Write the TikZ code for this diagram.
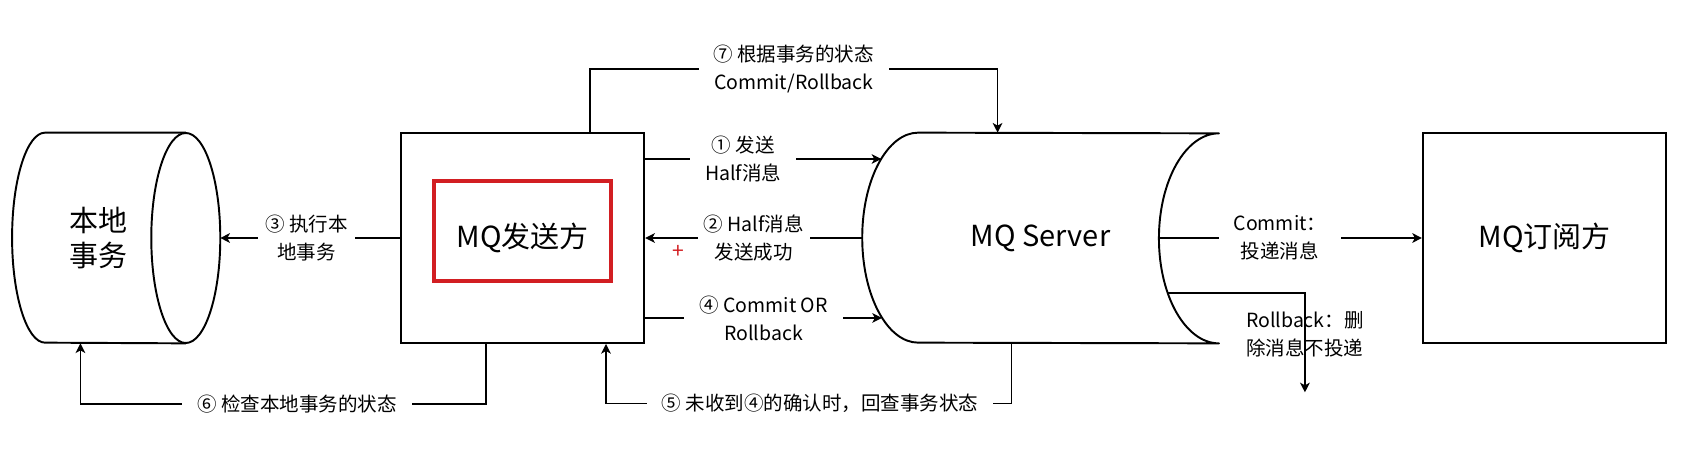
\documentclass[tikz,border=0pt]{standalone}
\usepackage{fontspec}
\setmainfont{Noto Sans CJK SC}
\usepackage{tikz}
\usetikzlibrary{positioning,calc,arrows.meta}
\definecolor{hlred}{RGB}{210,30,34}

\begin{document}
\begin{tikzpicture}[
    module/.style={rectangle, draw=black, line width=1.1pt, minimum width=4.87cm, minimum height=4.2cm, inner sep=0pt, align=center, font=\fontsize{16.5}{19.9}\selectfont},
    storebody/.style={rectangle, minimum height=4.2cm, inner sep=0pt, align=center, font=\fontsize{16.5}{19.9}\selectfont},
    outline/.style={draw=black, line width=1.1pt, line join=round},
    hlbox/.style={rectangle, draw=hlred, line width=1.8pt, minimum width=3.54cm, minimum height=2cm},
    lbl/.style={fill=white, align=center, inner xsep=0.3cm, inner ysep=1pt, font=\fontsize{11.1}{15.9}\selectfont},
    arrow/.style={-{Stealth[length=5.5pt, width=5.5pt, inset=1.5pt]}, line width=0.9pt}
]
\useasboundingbox (0,0) rectangle (33.84,9.14);

% Main modules
\node[module] (sender) at (10.45,4.38) {MQ发送方};
\node[storebody, minimum width=3.46cm, left=4.28cm of sender] (ldb) {本地\\事务};
\node[storebody, minimum width=7.12cm, right=4.34cm of sender] (srv) {MQ Server};
\node[module, right=4.06cm of srv] (sub) {MQ订阅方};
\node[hlbox] (senderhl) at ([yshift=0.14cm]sender.center) {};
\node[text=hlred, font=\fontsize{12}{12}\selectfont, inner sep=0pt] (handle) at (13.56,4.10) {+};

% Storage outlines
\draw[outline] (ldb.north east) -- ([xshift=0.66cm]ldb.north west)
  arc[start angle=90, end angle=270, x radius=0.66cm, y radius=2.1cm] -- (ldb.south east);
\draw[outline] (ldb.east) ellipse[x radius=0.69cm, y radius=2.1cm];
\draw[outline] ([xshift=1.12cm]srv.north west)
  arc[start angle=90, end angle=270, x radius=1.12cm, y radius=2.1cm] -- (srv.south east)
  arc[start angle=270, end angle=90, x radius=1.2cm, y radius=2.1cm] -- cycle;

% Points on the curved borders
\coordinate (ldbcap) at ([xshift=0.69cm]ldb.east);
\path ([xshift=1.12cm]srv.west) ++(131.2:1.12cm and 2.1cm) coordinate (srvin1);
\path ([xshift=1.12cm]srv.west) ++(229.6:1.12cm and 2.1cm) coordinate (srvin4);
\path (srv.east) ++(180:1.2cm and 2.1cm) coordinate (srvout);
\path (srv.east) ++(211.6:1.2cm and 2.1cm) coordinate (srvrb);
\coordinate (rbend) at ($(srv.south east)+(1.72,-0.98)$);

% Message flow
\draw[arrow] (sender.east |- srvin1) -- node[lbl, pos=0.415] {① 发送\\Half消息} (srvin1);
\draw[arrow] (srv.west) -- node[lbl, inner xsep=0.12cm] {② Half消息\\发送成功} (sender.east |- srv.west);
\draw[arrow] (sender) -- node[lbl, inner xsep=0.15cm, pos=0.52] {③ 执行本\\地事务} (ldbcap);
\draw[arrow] (sender.east |- srvin4) -- node[lbl] {④ Commit OR\\Rollback} (srvin4);
\draw[arrow] ([xshift=-0.58cm]srv.south) -- ++(0,-1.2) -| node[lbl, pos=0.236] {⑤ 未收到④的确认时，回查事务状态} ([xshift=1.67cm]sender.south);
\draw[arrow] ([xshift=-0.73cm]sender.south) -- ++(0,-1.2) -| node[lbl, pos=0.233] {⑥ 检查本地事务的状态} ([xshift=-0.37cm]ldb.south);
\draw[arrow] ([xshift=1.35cm]sender.north) -- ++(0,1.26) -| node[lbl, pos=0.25] {⑦ 根据事务的状态\\Commit/Rollback} ([xshift=-0.86cm]srv.north);

% Delivery to subscriber
\draw[arrow] (srvout) -- node[lbl, pos=0.46] {Commit：\\投递消息} (sub);
\draw[arrow] (srvrb) -| node[lbl, fill=none, pos=0.707] {Rollback：删\\除消息不投递} (rbend);

\end{tikzpicture}
\end{document}
